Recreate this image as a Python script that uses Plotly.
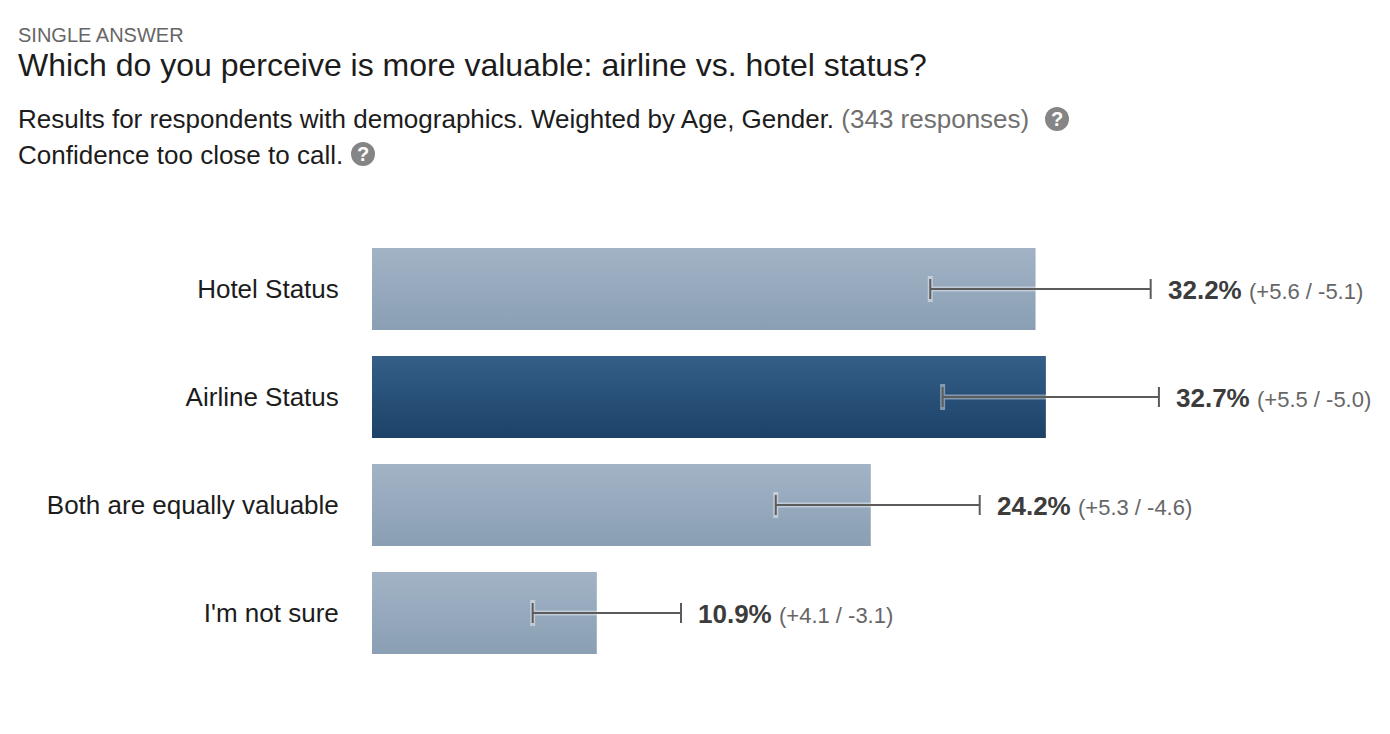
import plotly.graph_objects as go

# Survey results
categories = ["Hotel Status", "Airline Status", "Both are equally valuable", "I'm not sure"]
shares = [32.2, 32.7, 24.2, 10.9]
err_plus = [5.6, 5.5, 5.3, 4.1]
err_minus = [5.1, 5.0, 4.6, 3.1]
leading = "Airline Status"

W, H = 1390, 734
FONT = "Liberation Sans, Arial, sans-serif"
PLOT_LEFT, PLOT_TOP, PLOT_BOTTOM = 372, 235, 667
PX_PER_PCT = 20.6
BAR_WIDTH = 82 / 108

LIGHT = ("#a2b3c5", "#8a9fb4")
DARK = ("#355f88", "#1c4268")

positions = list(range(len(categories)))
fig = go.Figure()

# Flat bars, with a vertical gradient laid on top of each
fig.add_trace(go.Bar(
    x=shares, y=positions, orientation="h", width=BAR_WIDTH,
    marker=dict(color=[DARK[1] if c == leading else LIGHT[1] for c in categories], line_width=0),
    hoverinfo="skip",
))
for c, pos, val in zip(categories, positions, shares):
    top, bottom = DARK if c == leading else LIGHT
    y0, y1 = pos - BAR_WIDTH / 2, pos + BAR_WIDTH / 2
    fig.add_trace(go.Scatter(
        x=[0, val, val, 0, 0], y=[y0, y0, y1, y1, y0],
        mode="lines", line_width=0, fill="toself",
        fillgradient=dict(type="vertical", start=y0, stop=y1,
                          colorscale=[[0, top], [1, bottom]]),
        hoverinfo="skip",
    ))

# Confidence whiskers: a pale halo under the dark line
error_styles = [
    dict(color="rgba(255,255,255,0.42)", thickness=5, width=13),
    dict(color="#5c5c5c", thickness=2, width=10),
]
for style in error_styles:
    fig.add_trace(go.Scatter(
        x=shares, y=positions, mode="markers", marker=dict(size=1, opacity=0),
        error_x=dict(type="data", symmetric=False, array=err_plus, arrayminus=err_minus, **style),
        hoverinfo="skip",
    ))

fig.update_layout(
    width=W, height=H, autosize=False,
    margin=dict(l=0, r=0, t=0, b=0),
    paper_bgcolor="white", plot_bgcolor="white",
    showlegend=False,
    font=dict(family=FONT),
    xaxis=dict(domain=[PLOT_LEFT / W, 1], range=[0, (W - PLOT_LEFT) / PX_PER_PCT],
               visible=False, fixedrange=True),
    yaxis=dict(domain=[1 - PLOT_BOTTOM / H, 1 - PLOT_TOP / H], range=[len(categories) - 0.5, -0.5],
               tickmode="array", tickvals=positions, ticktext=categories,
               ticks="outside", ticklen=27, tickcolor="rgba(0,0,0,0)",
               showgrid=False, zeroline=False, showline=False, fixedrange=True,
               tickfont=dict(size=26, color="#1c1c1c", family=FONT)),
)


def page_text(x, y, text, size, color="#1c1c1c", **kw):
    fig.add_annotation(xref="paper", yref="paper", x=x / W, y=1 - y / H, text=text,
                       showarrow=False, xanchor=kw.pop("xanchor", "left"), yanchor="middle",
                       font=dict(size=size, color=color, family=FONT), borderpad=0, **kw)


def help_icon(cx, cy, r=12):
    fig.add_shape(type="circle", xref="paper", yref="paper",
                  x0=(cx - r) / W, x1=(cx + r) / W, y0=1 - (cy + r) / H, y1=1 - (cy - r) / H,
                  fillcolor="#858585", line_width=0)
    page_text(cx, cy, "<b>?</b>", 20, color="white", xanchor="center")


page_text(17, 35, "SINGLE ANSWER", 20, color="#666666")
page_text(17, 65, "Which do you perceive is more valuable: airline vs. hotel status?", 32)
page_text(17, 119, 'Results for respondents with demographics. Weighted by Age, Gender. '
                   '<span style="color:#707070">(343 responses)</span>', 26)
page_text(17, 155, "Confidence too close to call.", 26)
help_icon(1057, 119)
help_icon(363, 154)

# Value and interval labels just beyond each whisker
for pos, val, plus, minus in zip(positions, shares, err_plus, err_minus):
    fig.add_annotation(
        x=val + plus, y=pos, xref="x", yref="y", xanchor="left", yanchor="middle",
        xshift=15, yshift=-1, showarrow=False,
        text=f'<b>{val:.1f}%</b> <span style="font-size:22px;color:#666666">(+{plus:.1f} / -{minus:.1f})</span>',
        font=dict(size=26, color="#3c3c3c", family=FONT),
    )

fig.write_html("out.html", config=dict(displayModeBar=False))
